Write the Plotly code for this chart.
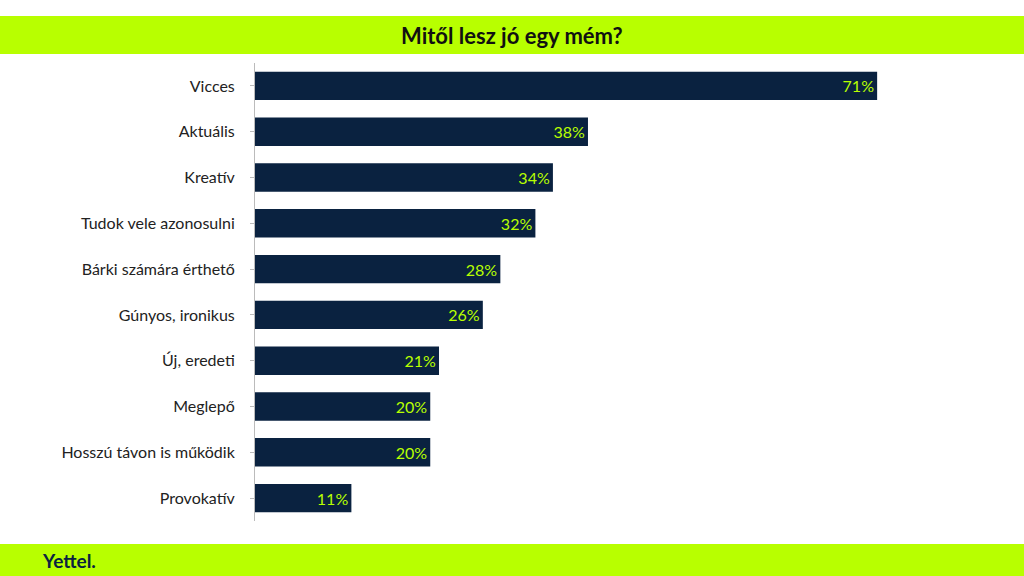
import plotly.graph_objects as go

categories = ['Vicces', 'Aktuális', 'Kreatív', 'Tudok vele azonosulni', 'Bárki számára érthető',
              'Gúnyos, ironikus', 'Új, eredeti', 'Meglepő', 'Hosszú távon is működik', 'Provokatív']
values = [71, 38, 34, 32, 28, 26, 21, 20, 20, 11]
labels = [f'{v}%' for v in values]

green = '#B8FF00'
navy = '#0A2240'

W, H = 1024, 576
L, R, T, B = 255, 68, 63, 55
pw, ph = W - L - R, H - T - B

def px(x):
    return (x - L) / pw

def py(y):
    return (H - B - y) / ph

fig = go.Figure(go.Bar(
    y=categories, x=values, orientation='h',
    marker=dict(color=navy, line=dict(width=0)),
    text=labels, textposition='inside', insidetextanchor='end',
    textfont=dict(color=green, size=16, family='Lato'),
    width=0.62,
))

fig.update_layout(
    width=W, height=H,
    margin=dict(l=L, r=R, t=T, b=B),
    paper_bgcolor='white', plot_bgcolor='white',
    showlegend=False,
    xaxis=dict(range=[0, 80], visible=False),
    yaxis=dict(autorange='reversed', showline=True, linecolor='#bbbbbb', linewidth=1,
               ticks='outside', ticklen=4, tickcolor='#bbbbbb', ticklabelstandoff=12,
               tickfont=dict(size=16, color='#222222', family='Lato')),
    shapes=[
        dict(type='rect', xref='paper', yref='paper', x0=px(0), x1=px(W), y0=py(54), y1=py(16),
             fillcolor=green, line=dict(width=0), layer='below'),
        dict(type='rect', xref='paper', yref='paper', x0=px(0), x1=px(W), y0=py(576), y1=py(544),
             fillcolor=green, line=dict(width=0), layer='below'),
    ],
    annotations=[
        dict(text='<b>Mitől lesz jó egy mém?</b>', xref='paper', yref='paper', x=px(512), y=py(35),
             xanchor='center', yanchor='middle',
             showarrow=False, font=dict(size=22, color='#111111', family='Lato')),
        dict(text='<b>Yettel.</b>', xref='paper', yref='paper', x=px(40), y=py(560),
             xanchor='left', yanchor='middle',
             showarrow=False, font=dict(size=19, color=navy, family='Lato')),
    ],
)

fig.write_html('out.html', config={'displayModeBar': False},
               post_script="document.body.style.margin='0';")
